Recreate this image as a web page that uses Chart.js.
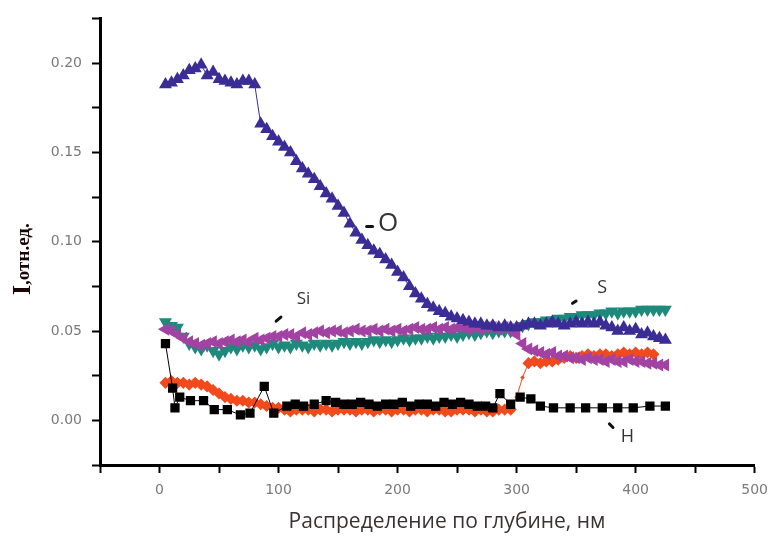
<!DOCTYPE html>
<html lang="ru">

<head>
  <meta charset="UTF-8" />
  <title>Распределение по глубине</title>
  <style>
    html, body { margin: 0; padding: 0; background: #fff; }
    #chart { display: block; }
  </style>
</head>

<body>
  <canvas id="chart" width="777" height="544"></canvas>

  <script src="https://cdn.jsdelivr.net/npm/chart.js@4.4.0/dist/chart.umd.min.js"></script>
  <script>
    // глубина, нм (общая сетка для O, S, Si и оранжевой кривой)
    const depth = [
      5, 10, 15, 20, 25, 30, 35, 40, 45, 50,
      55, 60, 65, 70, 75, 80, 85, 90, 95, 100,
      105, 110, 115, 120, 125, 130, 135, 140, 145, 150,
      155, 160, 165, 170, 175, 180, 185, 190, 195, 200,
      205, 210, 215, 220, 225, 230, 235, 240, 245, 250,
      255, 260, 265, 270, 275, 280, 285, 290, 295, 300,
      305, 310, 315, 320, 325, 330, 335, 340, 345, 350,
      355, 360, 365, 370, 375, 380, 385, 390, 395, 400,
      405, 410, 415, 420, 425
    ];

    const oxygen = [
      0.188, 0.189, 0.191, 0.193, 0.196, 0.197, 0.199, 0.193, 0.195, 0.191,
      0.190, 0.189, 0.188, 0.190, 0.190, 0.188, 0.166, 0.163, 0.159, 0.156,
      0.153, 0.150, 0.145, 0.141, 0.138, 0.135, 0.131, 0.127, 0.124, 0.120,
      0.116, 0.110, 0.105, 0.101, 0.098, 0.095, 0.093, 0.090, 0.087, 0.083,
      0.080, 0.075, 0.071, 0.068, 0.065, 0.063, 0.061, 0.060, 0.058, 0.057,
      0.056, 0.055, 0.054, 0.054, 0.053, 0.053, 0.052, 0.053, 0.052, 0.052,
      0.053, 0.054, 0.054, 0.053, 0.054, 0.055, 0.054, 0.053, 0.054, 0.055,
      0.054, 0.055, 0.054, 0.055, 0.053, 0.052, 0.050, 0.052, 0.050, 0.051,
      0.048, 0.049, 0.047, 0.046, 0.045
    ];

    const sulfur = [
      0.055, 0.053, 0.052, 0.047, 0.043, 0.041, 0.040, 0.042, 0.039, 0.037,
      0.039, 0.041, 0.040, 0.042, 0.041, 0.042, 0.040, 0.041, 0.043, 0.041,
      0.042, 0.041, 0.043, 0.042, 0.041, 0.043, 0.042, 0.043, 0.042, 0.043,
      0.044, 0.043, 0.044, 0.043, 0.044, 0.045, 0.044, 0.045, 0.044, 0.045,
      0.046, 0.045, 0.046, 0.046, 0.047, 0.046, 0.047, 0.047, 0.048, 0.047,
      0.048, 0.049, 0.048, 0.049, 0.050, 0.049, 0.050, 0.050, 0.050, 0.051,
      0.053, 0.054, 0.055, 0.055, 0.056, 0.056, 0.057, 0.057, 0.058, 0.058,
      0.059, 0.059, 0.059, 0.060, 0.060, 0.061, 0.060, 0.061, 0.061, 0.061,
      0.062, 0.062, 0.062, 0.062, 0.062
    ];

    const silicon = [
      0.051, 0.050, 0.048, 0.046, 0.044, 0.043, 0.042, 0.043, 0.044, 0.043,
      0.044, 0.045, 0.044, 0.045, 0.044, 0.046, 0.045, 0.046, 0.047, 0.047,
      0.048, 0.048, 0.047, 0.049, 0.048, 0.049, 0.050, 0.049, 0.050, 0.050,
      0.049, 0.050, 0.051, 0.050, 0.050, 0.051, 0.050, 0.051, 0.050, 0.051,
      0.050, 0.051, 0.052, 0.051, 0.051, 0.052, 0.051, 0.052, 0.051, 0.052,
      0.052, 0.051, 0.052, 0.051, 0.052, 0.052, 0.051, 0.052, 0.051, 0.048,
      0.043, 0.040, 0.039, 0.038, 0.037, 0.038, 0.036, 0.036, 0.035, 0.035,
      0.034, 0.035, 0.034, 0.034, 0.033, 0.034, 0.033, 0.033, 0.034, 0.033,
      0.033, 0.032, 0.032, 0.031, 0.031
    ];

    // оранжевая кривая (без подписи на графике)
    const orange = [
      0.021, 0.022, 0.021, 0.021, 0.020, 0.021, 0.020, 0.019, 0.017, 0.015,
      0.013, 0.012, 0.011, 0.011, 0.010, 0.010, 0.009, 0.008, 0.007, 0.007,
      0.006, 0.005, 0.006, 0.006, 0.006, 0.005, 0.006, 0.006, 0.005, 0.006,
      0.006, 0.006, 0.005, 0.006, 0.006, 0.005, 0.006, 0.006, 0.005, 0.006,
      0.006, 0.005, 0.006, 0.006, 0.005, 0.006, 0.006, 0.005, 0.005, 0.006,
      0.006, 0.006, 0.005, 0.006, 0.005, 0.005, 0.006, 0.006, 0.006, 0.013,
      0.024, 0.032, 0.033, 0.032, 0.033, 0.033, 0.034, 0.035, 0.036, 0.035,
      0.036, 0.037, 0.036, 0.037, 0.037, 0.036, 0.037, 0.038, 0.037, 0.038,
      0.037, 0.038, 0.037, null, null
    ];

    // водород — своя сетка по глубине
    const hDepth = [
      5, 11, 13, 17, 26, 37, 46, 57, 68, 76,
      88, 96, 107, 114, 121, 130, 140, 148, 155, 162,
      169, 176, 183, 190, 197, 204, 211, 218, 225, 232,
      239, 246, 253, 260, 267, 274, 280, 286, 295, 303,
      312, 320, 331, 345, 358, 372, 385, 398, 412, 425
    ];
    const hydrogen = [
      0.043, 0.018, 0.007, 0.013, 0.011, 0.011, 0.006, 0.006, 0.003, 0.004,
      0.019, 0.004, 0.008, 0.009, 0.008, 0.009, 0.011, 0.010, 0.009, 0.009,
      0.010, 0.009, 0.008, 0.009, 0.009, 0.010, 0.008, 0.009, 0.009, 0.008,
      0.010, 0.009, 0.010, 0.009, 0.008, 0.008, 0.007, 0.015, 0.009, 0.013,
      0.012, 0.008, 0.007, 0.007, 0.007, 0.007, 0.007, 0.007, 0.008, 0.008
    ];

    const xTicks = [0, 100, 200, 300, 400, 500];
    const yTicks = [0.00, 0.05, 0.10, 0.15, 0.20];

    const xTitle = "Распределение по глубине, нм";
    const yTitle = ["I", ",отн.ед."];

    // подписи элементов и чёрточки-указатели (в координатах данных)
    const notes = [
      { text: "O", x: 192, y: 0.110, size: 26 },
      { text: "Si", x: 121, y: 0.068, size: 17 },
      { text: "S", x: 372, y: 0.074, size: 18 },
      { text: "H", x: 393, y: -0.0095, size: 18 }
    ];
    const pointers = [
      [174, 0.1085, 179, 0.1085],
      [98, 0.0555, 102, 0.0578],
      [347, 0.0655, 350, 0.0668],
      [378, -0.0020, 381, -0.0040]
    ];

    function pairs(xs, ys) {
      return xs.map((v, i) => ({ x: v, y: ys[i] }));
    }

    function series(label, xs, ys, color, style, radius) {
      return {
        label: label,
        data: pairs(xs, ys),
        borderColor: color,
        backgroundColor: color,
        borderWidth: 1,
        pointStyle: style,
        pointRadius: radius,
        pointBorderWidth: 1.5,
        showLine: true,
        spanGaps: false
      };
    }

    const datasets = [
      series("O", depth, oxygen, "#3b2d95", "triangle", 6),
      series("Si", depth, silicon, "#a243a3", "triangle", 6),
      series("S", depth, sulfur, "#1d8a7c", "triangle", 6),
      series("H", hDepth, hydrogen, "#000000", "rect", 5.5),
      series("C", depth, orange, "#f24a1c", "rectRot", 5)
    ];
    // треугольники: Si повернут влево, S — вниз
    datasets[1].pointRotation = -90;
    datasets[2].pointRotation = 180;
    // точки на резком переходе оранжевой кривой почти не видны
    datasets[4].pointRadius = ctx => {
      const p = ctx.raw;
      return p && p.x > 297 && p.x < 308 ? 1.2 : 5;
    };

    const labels = {
      id: "labels",
      afterDraw(chart) {
        const { ctx, scales: { x, y } } = chart;
        ctx.save();

        ctx.fillStyle = "#3a3232";
        ctx.font = '21px "Open Sans"';
        ctx.textAlign = "center";
        ctx.textBaseline = "middle";
        ctx.fillText(xTitle, 447, 522);

        ctx.save();
        ctx.translate(23, 295);
        ctx.rotate(-Math.PI / 2);
        ctx.textAlign = "left";
        ctx.textBaseline = "middle";
        ctx.fillStyle = "#1a0606";
        ctx.font = 'bold 26px "Liberation Serif"';
        ctx.fillText(yTitle[0], 0, 0);
        const w = ctx.measureText(yTitle[0]).width;
        ctx.font = 'bold 19px "Liberation Serif"';
        ctx.fillText(yTitle[1], w, 1);
        ctx.restore();

        ctx.fillStyle = "#333";
        notes.forEach(n => {
          ctx.font = n.size + 'px "Open Sans"';
          ctx.fillText(n.text, x.getPixelForValue(n.x), y.getPixelForValue(n.y));
        });

        ctx.strokeStyle = "#111";
        ctx.lineWidth = 3;
        ctx.lineCap = "round";
        pointers.forEach(p => {
          ctx.beginPath();
          ctx.moveTo(x.getPixelForValue(p[0]), y.getPixelForValue(p[1]));
          ctx.lineTo(x.getPixelForValue(p[2]), y.getPixelForValue(p[3]));
          ctx.stroke();
        });
        ctx.restore();
      }
    };

    const axisGrid = {
      drawOnChartArea: false,
      drawTicks: true,
      tickLength: 8,
      tickWidth: 2,
      tickColor: "#000"
    };

    new Chart(document.getElementById("chart"), {
      type: "scatter",
      data: { datasets: datasets },
      options: {
        responsive: false,
        animation: false,
        devicePixelRatio: 1,
        layout: { padding: { left: 0, top: 15, right: 17, bottom: 0 } },
        plugins: { legend: { display: false }, tooltip: { enabled: false } },
        scales: {
          x: {
            type: "linear",
            min: -50,
            max: 500,
            grid: axisGrid,
            border: { display: true, color: "#000", width: 3 },
            afterFit: s => { s.height = 79; },
            ticks: {
              stepSize: 50,
              padding: 9,
              color: "#7a7a7a",
              font: { family: "DejaVu Sans", size: 14 },
              maxRotation: 0,
              callback: v => xTicks.includes(v) ? String(v) : ""
            }
          },
          y: {
            type: "linear",
            min: -0.025,
            max: 0.225,
            grid: axisGrid,
            border: { display: true, color: "#000", width: 3 },
            afterFit: s => { s.width = 100; },
            ticks: {
              stepSize: 0.025,
              padding: 10,
              color: "#7a7a7a",
              font: { family: "DejaVu Sans", size: 14 },
              callback: v => yTicks.some(t => Math.abs(t - v) < 1e-6) ? v.toFixed(2) : ""
            }
          }
        }
      },
      plugins: [labels]
    });
  </script>
</body>

</html>
